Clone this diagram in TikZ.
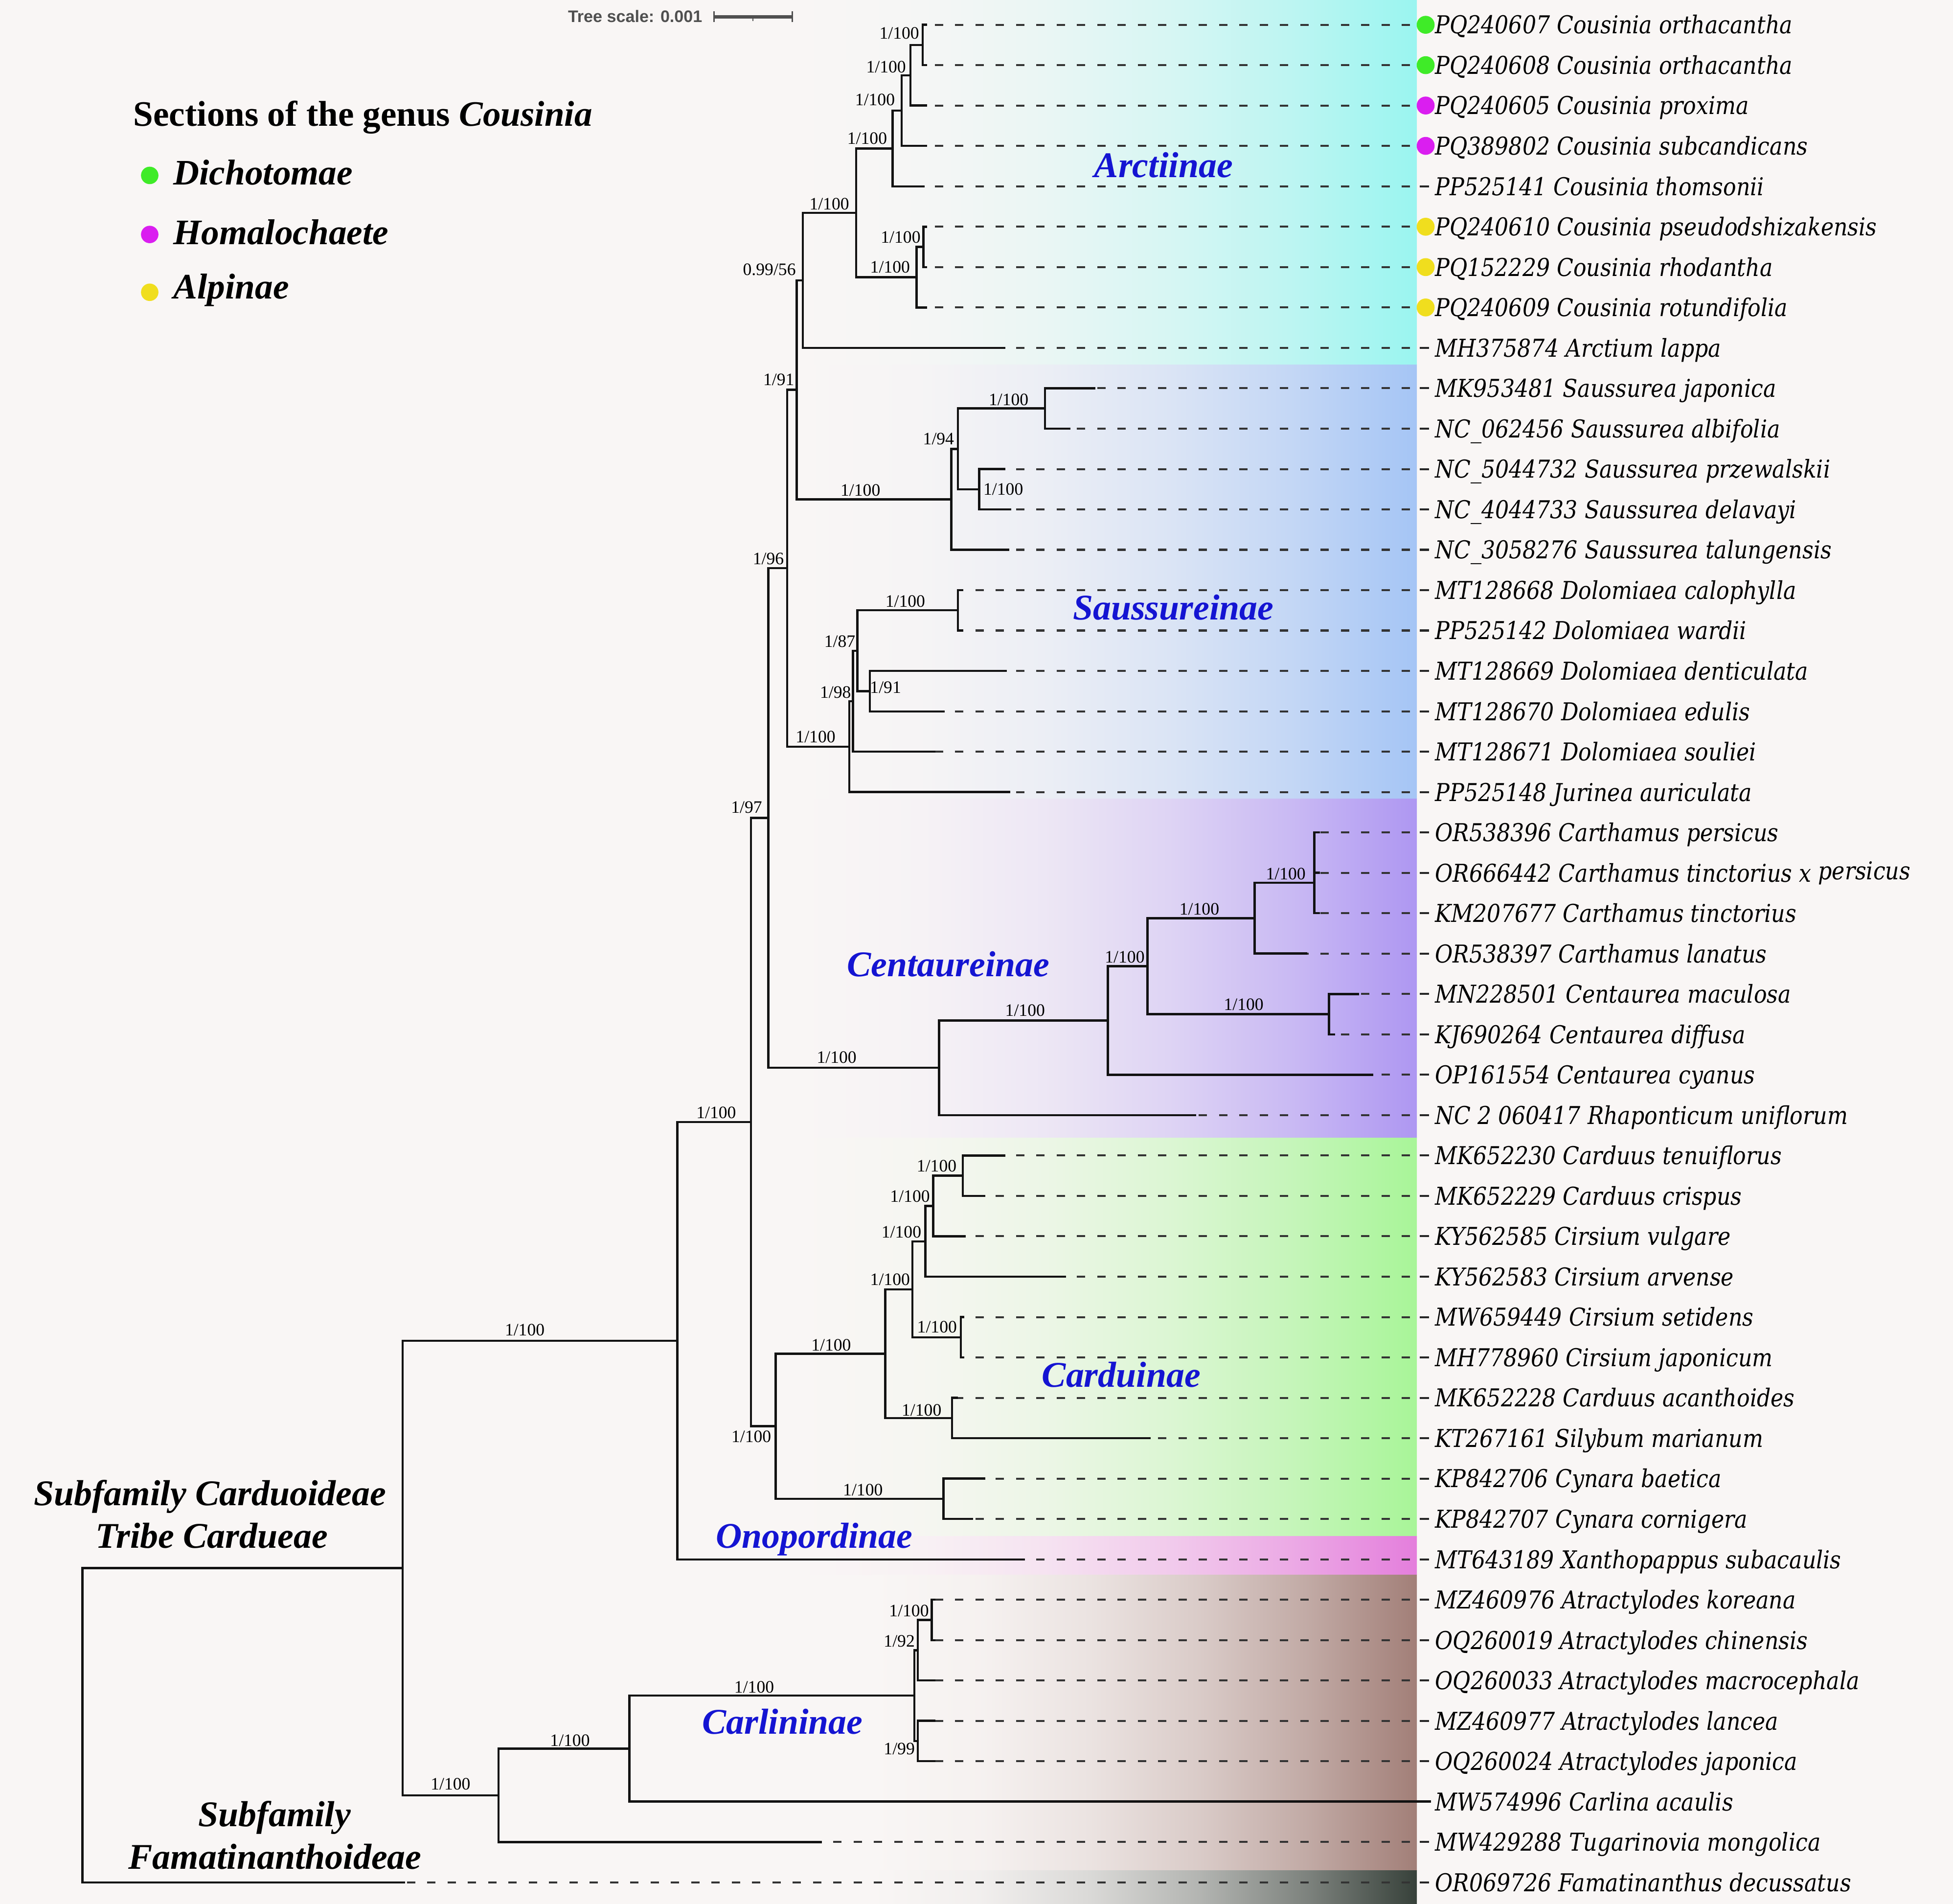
\documentclass[tikz,border=0pt]{standalone}
\usepackage{fontspec}
\setmainfont{Liberation Serif}
\newfontfamily\leaffont{DejaVu Serif}[FakeStretch=0.88]
\newfontfamily\scalefont{Liberation Sans}
\definecolor{bgc}{RGB}{249,246,245}
\definecolor{eA}{RGB}{154,245,240}
\definecolor{eS}{RGB}{165,197,245}
\definecolor{eC}{RGB}{174,151,242}
\definecolor{eD}{RGB}{168,245,152}
\definecolor{eO}{RGB}{228,126,220}
\definecolor{eL}{RGB}{162,127,120}
\definecolor{eF}{RGB}{55,65,58}
\definecolor{cladeblue}{RGB}{20,20,210}
\definecolor{dgreen}{RGB}{63,235,40}
\definecolor{dmag}{RGB}{218,30,240}
\definecolor{dyel}{RGB}{240,222,30}
\definecolor{scalegray}{RGB}{80,80,80}
\newcommand\bandshading[2]{%
  \pgfdeclarehorizontalshading{#1}{100bp}{color(0bp)=(bgc); color(25bp)=(bgc);
    color(35bp)=(#2!4!bgc); color(45bp)=(#2!16!bgc); color(55bp)=(#2!36!bgc);
    color(65bp)=(#2!64!bgc); color(75bp)=(#2); color(100bp)=(#2)}}
\bandshading{shA}{eA}
\bandshading{shS}{eS}
\bandshading{shC}{eC}
\bandshading{shD}{eD}
\bandshading{shO}{eO}
\bandshading{shL}{eL}
\bandshading{shF}{eF}
\tikzset{
  br/.style={line width=1.75pt, black!93, line cap=rect, line join=miter},
  leader/.style={line width=1.6pt, black!80, dash pattern=on 6.6pt off 9.7pt},
  endtick/.style={line width=1.6pt, black!85},
  supp/.style={font=\fontsize{14}{16}\selectfont, inner sep=0pt},
  clade/.style={font=\fontsize{29}{32}\selectfont\bfseries\itshape, text=cladeblue, inner sep=0pt, anchor=base},
  subf/.style={font=\fontsize{29}{32}\selectfont\bfseries\itshape, inner sep=0pt, anchor=base},
  leaf/.style={font=\leaffont\itshape\fontsize{19.75}{22}\selectfont, inner sep=0pt, anchor=base west},
  legtxt/.style={font=\fontsize{28.8}{32}\selectfont\bfseries\itshape, inner sep=0pt, anchor=base west},
}
\begin{document}
\begin{tikzpicture}[x=1pt,y=-1pt]
\useasboundingbox (0,0) rectangle (1568,1528.3);
\fill[bgc] (0,0) rectangle (1568,1528.3);

% ---------- clade colour ranges ----------
\foreach \ya/\yb/\sh/\xs in {
0/292.8/shA/640,
292.8/641.2/shS/640,
641.2/913.3/shC/640,
913.3/1233/shD/640,
1233/1264/shO/640,
1264/1501.3/shL/700,
1501.3/1528.3/shF/700}{
  \shade[shading=\sh] (\xs,\ya) rectangle (1137.5,\yb);
}

% ---------- leaves ----------
\foreach \i/\y/\tx/\lab in {
1/19.9/743.3/{PQ240607 Cousinia orthacantha},
2/52.3/743.3/{PQ240608 Cousinia orthacantha},
3/84.7/743.3/{PQ240605 Cousinia proxima},
4/117.1/743.3/{PQ389802 Cousinia subcandicans},
5/149.6/741.4/{PP525141 Cousinia thomsonii},
6/182.0/743.3/{PQ240610 Cousinia pseudodshizakensis},
7/214.4/743.3/{PQ152229 Cousinia rhodantha},
8/246.8/743.3/{PQ240609 Cousinia rotundifolia},
9/279.2/806.1/{MH375874 Arctium lappa},
10/311.6/878.5/{MK953481 Saussurea japonica},
11/344.1/858.5/{NC\_062456 Saussurea albifolia},
12/376.5/806.1/{NC\_5044732 Saussurea przewalskii},
13/408.9/811.0/{NC\_4044733 Saussurea delavayi},
14/441.3/809.6/{NC\_3058276 Saussurea talungensis},
15/473.7/772.4/{MT128668 Dolomiaea calophylla},
16/506.1/772.4/{PP525142 Dolomiaea wardii},
17/538.5/807.5/{MT128669 Dolomiaea denticulata},
18/571.0/757.6/{MT128670 Dolomiaea edulis},
19/603.4/750.0/{MT128671 Dolomiaea souliei},
20/635.8/810.3/{PP525148 Jurinea auriculata},
21/668.2/1058.8/{OR538396 Carthamus persicus},
22/700.6/1058.8/{OR666442 Carthamus tinctorius x \raisebox{1.7pt}{persicus}},
23/733.0/1058.8/{KM207677 Carthamus tinctorius},
24/765.4/1048.8/{OR538397 Carthamus lanatus},
25/797.9/1090.2/{MN228501 Centaurea maculosa},
26/830.3/1071.2/{KJ690264 Centaurea diffusa},
27/862.7/1101.6/{OP161554 Centaurea cyanus},
28/895.1/959.4/{NC 2 060417 Rhaponticum uniflorum},
29/927.5/806.4/{MK652230 Carduus tenuiflorus},
30/959.9/790.1/{MK652229 Carduus crispus},
31/992.3/774.5/{KY562585 Cirsium vulgare},
32/1024.8/855.0/{KY562583 Cirsium arvense},
33/1057.2/773.3/{MW659449 Cirsium setidens},
34/1089.6/773.3/{MH778960 Cirsium japonicum},
35/1122.0/768.3/{MK652228 Carduus acanthoides},
36/1154.4/923.1/{KT267161 Silybum marianum},
37/1186.8/790.1/{KP842706 Cynara baetica},
38/1219.2/780.3/{KP842707 Cynara cornigera},
39/1251.7/822.0/{MT643189 Xanthopappus subacaulis},
40/1284.1/750.2/{MZ460976 Atractylodes koreana},
41/1316.5/750.2/{OQ260019 Atractylodes chinensis},
42/1348.9/750.2/{OQ260033 Atractylodes macrocephala},
43/1381.3/750.2/{MZ460977 Atractylodes lancea},
44/1413.7/750.2/{OQ260024 Atractylodes japonica},
45/1446.1/1148.0/{MW574996 Carlina acaulis},
46/1478.6/659.1/{MW429288 Tugarinovia mongolica},
47/1511.0/324.2/{OR069726 Famatinanthus decussatus}}{
  \coordinate (t\i) at (\tx,\y);
  \coordinate (e\i) at (1132,\y);
  \coordinate (m\i) at (1140,\y);
  \node[leaf] (L\i) at (1152,{\y+7.2}) {\lab};
}

% ---------- internal nodes ----------
\foreach \n/\x/\y in {
a1/740.7/36.1, a2/731.0/60.4, a3/724.0/88.75, a4/716.6/119.2,
b1/741.4/198.2, b2/735.9/222.5, a5/687.4/170.85, a6/644.5/225.0,
s3/838.9/327.85, s4/786.2/392.7, s2/769.0/360.3, s1/763.8/400.8,
n91/639.7/312.9,
d3/769.0/489.9, d4/698.4/554.75, d2/688.4/522.3, d1/684.9/562.85, d0/681.8/599.3,
n96/631.9/456.1,
c4/1055.2/708.6, c3/1007.3/737.0, c5/1067.0/814.1, c2/921.2/775.55, c1/889.4/819.1, c0/754.0/857.1,
n97/616.9/656.6,
k5/773.0/943.7, k4/749.2/968.0, k3/743.0/996.4, k6/771.4/1073.4, k2/732.5/1034.9,
k7/764.4/1138.2, k1/710.7/1086.55, k8/757.4/1203.0, k0/622.8/1144.8,
na/603.0/900.7, nb/543.8/1076.2,
l5/748.0/1300.3, l4/736.8/1324.6, l6/736.8/1397.5, l3/734.1/1361.05,
l2/505.3/1403.6, l1/400.3/1441.1, nc/323.2/1258.65, root/66.1/1384.8}{
  \coordinate (\n) at (\x,\y);
}

% ---------- dashed leaders ----------
\foreach \i in {1,...,44,46,47} \draw[leader] (e\i) -- (t\i);

% ---------- branches ----------
\foreach \p/\c in {
a1/t1, a1/t2, a2/a1, a2/t3, a3/a2, a3/t4, a4/a3, a4/t5,
b1/t6, b1/t7, b2/b1, b2/t8, a5/a4, a5/b2, a6/a5, a6/t9,
s3/t10, s3/t11, s4/t12, s4/t13, s2/s3, s2/s4, s1/s2, s1/t14,
n91/a6, n91/s1,
d3/t15, d3/t16, d4/t17, d4/t18, d2/d3, d2/d4, d1/d2, d1/t19, d0/d1, d0/t20,
n96/n91, n96/d0,
c4/t21, c4/t22, c4/t23, c3/c4, c3/t24, c5/t25, c5/t26, c2/c3, c2/c5,
c1/c2, c1/t27, c0/c1, c0/t28,
n97/n96, n97/c0,
k5/t29, k5/t30, k4/k5, k4/t31, k3/k4, k3/t32, k6/t33, k6/t34, k2/k3, k2/k6,
k7/t35, k7/t36, k1/k2, k1/k7, k8/t37, k8/t38, k0/k1, k0/k8,
na/n97, na/k0, nb/na, nb/t39,
l5/t40, l5/t41, l4/l5, l4/t42, l6/t43, l6/t44, l3/l4, l3/l6,
l2/l3, l2/t45, l1/l2, l1/t46, nc/nb, nc/l1, root/nc, root/t47}{
  \draw[br] (\p) |- (\c);
}

% ---------- leaf end marks and dots ----------
\foreach \i in {5,9,10,...,44,46,47} \draw[endtick] (m\i) -- ++(7.3,0);
\foreach \i/\c in {1/dgreen,2/dgreen,3/dmag,4/dmag,6/dyel,7/dyel,8/dyel}
  \fill[\c] (m\i) ++(4.6,0) circle (7.2);

% ---------- support values ----------
\foreach \x/\y/\p/\q [count=\n] in {
722.0/26.8/1/100, 711.4/53.6/1/100, 702.5/80.0/1/100, 696.2/111.0/1/100,
665.8/163.6/1/100, 723.1/190.3/1/100, 714.6/214.3/1/100, 617.7/216.2/0.99/56,
625.2/304.8/1/91, 690.8/393.3/1/100, 753.5/352.4/1/94, 809.8/320.9/1/100,
805.5/392.8/1/100, 616.9/448.4/1/96, 654.8/591.3/1/100, 670.8/555.9/1/98,
674.2/515.0/1/87, 726.8/482.8/1/100, 711.0/551.8/1/91, 599.4/648.0/1/97,
671.7/848.7/1/100, 823.0/811.2/1/100, 903.0/768.1/1/100, 962.9/729.8/1/100,
1032.3/701.4/1/100, 998.5/806.5/1/100,
752.0/935.8/1/100, 730.6/960.2/1/100, 723.7/988.9/1/100, 714.6/1027.2/1/100,
752.3/1065.1/1/100, 667.3/1079.6/1/100, 739.9/1131.8/1/100, 692.8/1196.1/1/100,
603.2/1153.1/1/100, 575.0/893.0/1/100, 421.3/1067.4/1/100,
729.8/1293.0/1/100, 722.0/1317.3/1/92, 722.0/1403.7/1/99, 605.5/1354.4/1/100,
457.6/1396.9/1/100, 361.7/1432.0/1/100}{
  \node[supp] (sv\n) at (\x,\y) {\p/\q};
}

% ---------- clade names ----------
\node[clade] (cArc) at (934.2,142.5) {Arctiinae};
\node[clade] (cSau) at (942.0,497.3) {Saussureinae};
\node[clade] (cCen) at (761.4,783.6) {Centaureinae};
\node[clade] (cCar) at (900.2,1113.4) {Carduinae};
\node[clade] (cOno) at (653.7,1242.5) {Onopordinae};
\node[clade] (cCrl) at (628.2,1391.7) {Carlininae};

\node[subf] (sf1) at (168.5,1208.2) {Subfamily Carduoideae};
\node[subf] (sf2) at (169.9,1242.4) {Tribe Cardueae};
\node[subf] (sf3) at (220.5,1466.0) {Subfamily};
\node[subf] (sf4) at (220.8,1500.2) {Famatinanthoideae};

% ---------- legend ----------
\node[font=\fontsize{28.7}{32}\selectfont\bfseries, inner sep=0pt, anchor=base west] (lgt) at (107,101.1) {Sections of the genus \textit{Cousinia}};
\coordinate (g1) at (120.2,140.8);
\coordinate (g2) at (120.2,188.2);
\coordinate (g3) at (120.2,234.6);
\fill[dgreen] (g1) circle (7);
\fill[dmag] (g2) circle (7);
\fill[dyel] (g3) circle (7);
\node[legtxt] (lg1) at (139,148.4) {Dichotomae};
\node[legtxt] (lg2) at (139,196.0) {Homalochaete};
\node[legtxt] (lg3) at (139,239.6) {Alpinae};

% ---------- tree scale ----------
\node[font=\scalefont\bfseries\fontsize{13.4}{15}\selectfont, text=scalegray, inner sep=0pt, anchor=base east] (tsc) at (564,17.9) {Tree scale: 0.001};
\coordinate (sb1) at (573.1,13.4);
\coordinate (sb2) at (636.0,13.4);
\coordinate (sbm) at (604.5,13.4);
\draw[scalegray, line width=2.7pt] (sb1) -- (sb2);
\draw[scalegray, line width=1.2pt] (sb1) ++(0,-4.2) -- ++(0,8.4);
\draw[scalegray, line width=1.2pt] (sb2) ++(0,-4.2) -- ++(0,8.4);
\draw[scalegray, line width=1.0pt] (sbm) -- ++(0,3.4);
\end{tikzpicture}
\end{document}
